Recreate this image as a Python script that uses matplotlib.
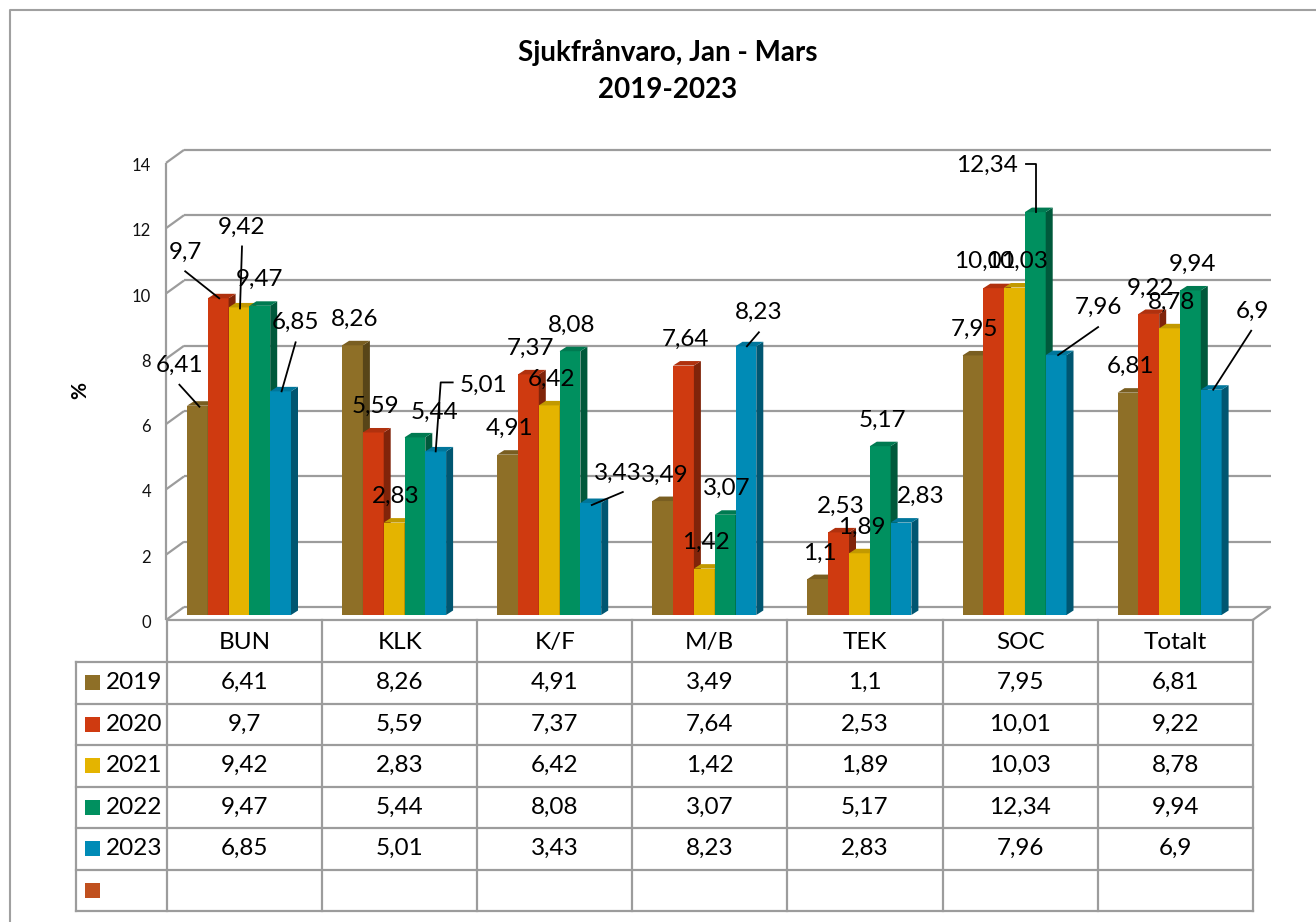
import matplotlib
matplotlib.use('Agg')
import matplotlib.pyplot as plt
from matplotlib.patches import Polygon, Rectangle
from matplotlib.transforms import IdentityTransform
import numpy as np

# ---------------- data ----------------
categories = ['BUN', 'KLK', 'K/F', 'M/B', 'TEK', 'SOC', 'Totalt']
years = ['2019', '2020', '2021', '2022', '2023']
v2019 = [6.41, 8.26, 4.91, 3.49, 1.1, 7.95, 6.81]
v2020 = [9.7, 5.59, 7.37, 7.64, 2.53, 10.01, 9.22]
v2021 = [9.42, 2.83, 6.42, 1.42, 1.89, 10.03, 8.78]
v2022 = [9.47, 5.44, 8.08, 3.07, 5.17, 12.34, 9.94]
v2023 = [6.85, 5.01, 3.43, 8.23, 2.83, 7.96, 6.9]
series = [v2019, v2020, v2021, v2022, v2023]
yticks = [0, 2, 4, 6, 8, 10, 12, 14]
title_lines = ['Sjukfrånvaro, Jan - Mars', '2019-2023']
ylabel = '%'

# ---------------- style ----------------
colors = ['#8E6F27', '#CF3A10', '#E4B400', '#00905F', '#008BB6']
extra_color = '#C0501E'
grid_col = '#9C9C9C'
FONT = ['Lato', 'DejaVu Sans']
plt.rcParams['font.family'] = FONT
LABEL_FS = 17.5
TABLE_FS = 17.5

def fmt(v):
    return ('%g' % v).replace('.', ',')

def shade(c, f):
    r, g, b = matplotlib.colors.to_rgb(c)
    return (r * f, g * f, b * f)

W, H, DPI = 1316, 922, 100
fig = plt.figure(figsize=(W / DPI, H / DPI), dpi=DPI)

# layout constants (pixels)
COL0, COLW = 167.0, 155.1      # table / category columns
BASE, PPU = 615.0, 32.65        # bar baseline and pixels per unit
L, R, B, T = 150, 1290, 640, 120

ax = fig.add_axes([L / W, (H - B) / H, (R - L) / W, (B - T) / H])
ax.set_xlim(-0.5 + (L - COL0) / COLW, -0.5 + (R - COL0) / COLW)
ax.set_ylim((BASE - B) / PPU, (BASE - T) / PPU)
ax.axis('off')

# 3D geometry (data units)
bw = 20.8 / COLW
gstart = 20.0 / COLW - 0.5
dx3 = 7.0 / COLW
dy3 = 4.5 / PPU
back_dy = 8.0 / PPU          # back-wall gridline lift
front_dy = -5.0 / PPU        # front floor edge
x_front = -0.5 - 1.0 / COLW
x_back = -0.5 + 17.0 / COLW
x_right_front = len(categories) - 0.5
x_right_back = x_right_front + 18.0 / COLW

# walls / gridlines
gkw = dict(color=grid_col, lw=1.6, solid_capstyle='butt', zorder=1)
ax.plot([x_front, x_front], [front_dy, yticks[-1] + front_dy], **gkw)
for t in yticks:
    ax.plot([x_front, x_back], [t + front_dy, t + back_dy], **gkw)
    ax.plot([x_back, x_right_back], [t + back_dy, t + back_dy], **gkw)
    ax.text(x_front - 15.0 / COLW, t - 8.0 / PPU, str(t), ha='right', va='center',
            fontsize=12, color='#111111')
ax.plot([x_right_front, x_right_back], [front_dy, back_dy], **gkw)

# bars
for j, vals in enumerate(series):
    xs = np.arange(len(categories)) + gstart + j * bw
    ax.bar(xs, vals, width=bw, align='edge', color=colors[j], linewidth=0, zorder=3 + j * 3)
    for x, v in zip(xs, vals):
        side = Polygon([(x + bw, 0), (x + bw + dx3, dy3), (x + bw + dx3, v + dy3), (x + bw, v)],
                       closed=True, facecolor=shade(colors[j], 0.62), edgecolor='none', zorder=4 + j * 3)
        top = Polygon([(x, v), (x + dx3, v + dy3), (x + bw + dx3, v + dy3), (x + bw, v)],
                      closed=True, facecolor=shade(colors[j], 0.85), edgecolor='none', zorder=5 + j * 3)
        ax.add_patch(side)
        ax.add_patch(top)

# data labels: (dx, dy) pixel offsets of text centre from bar top, optional leader path
label_layout = {
    (0, 0): (-18, 40, [(-18, 21), (2, -1)]),
    (0, 1): (-33, 46, [(-33, 27), (1, 0)]),
    (0, 2): (3, 80, [(3, 61), (1, -1)]),
    (0, 3): (0, 26, None),
    (0, 4): (15, 69, [(15, 49), (1, 0)]),
    (1, 3): (20, 25, None),
    (1, 4): (48, 66, [(17, 69), (5, 69), (0, 0)]),
    (2, 4): (27, 30, [(32, 11), (1, -2)]),
    (3, 4): (13, 34, [(13, 14), (1, 0)]),
    (4, 4): (20, 26, None),
    (5, 1): (-9, 27, None),
    (5, 3): (-48, 47, [(-9, 48), (1, 48), (1, 0)]),
    (5, 4): (42, 48, [(42, 28), (2, 0)]),
    (6, 4): (41, 78, [(40, 59), (2, 0)]),
}
for j, vals in enumerate(series):
    for i, v in enumerate(vals):
        bx = i + gstart + j * bw + bw / 2
        dx, dy, path = label_layout.get((i, j), (2, 26, None))
        ax.annotate(fmt(v), xy=(bx, v), xytext=(dx, dy), textcoords='offset pixels',
                    ha='center', va='center', fontsize=LABEL_FS, zorder=30, annotation_clip=False)
        if path:
            px, py = ax.transData.transform((bx, v))
            xs = [px + p[0] for p in path]
            ys = [py + p[1] for p in path]
            ax.plot(xs, ys, color='black', lw=1.3, transform=IdentityTransform(), zorder=31,
                    clip_on=False)

# ---------------- overlay: frame, title, axis label, table ----------------
ov = fig.add_axes([0, 0, 1, 1], zorder=-1)
ov.set_xlim(0, W)
ov.set_ylim(H, 0)
ov.axis('off')
ov.plot([9.5, 9.5, W + 5], [H + 5, 10, 10], color='#A0A0A0', lw=1.5)

fig.text(667.5 / W, 1 - 52 / H, title_lines[0], ha='center', va='center', fontsize=20,
         fontweight='bold')
fig.text(667.5 / W, 1 - 90 / H, title_lines[1], ha='center', va='center', fontsize=20,
         fontweight='bold')
fig.text(80 / W, 1 - 390 / H, ylabel, ha='center', va='center', fontsize=15,
         fontweight='bold', rotation=90)

tkw = dict(color=grid_col, lw=1.6, solid_capstyle='projecting')
col_edges = [COL0 + COLW * k for k in range(len(categories) + 1)]
row_edges = [620, 662, 703.5, 745, 786.5, 828, 869.5, 911]
left_edge = 76
ov.plot([col_edges[0], col_edges[-1]], [row_edges[0]] * 2, **tkw)
for y in row_edges[1:]:
    ov.plot([left_edge, col_edges[-1]], [y, y], **tkw)
for x in col_edges:
    ov.plot([x, x], [row_edges[0], row_edges[-1]], **tkw)
ov.plot([left_edge, left_edge], [row_edges[1], row_edges[-1]], **tkw)

for i, c in enumerate(categories):
    xc = (col_edges[i] + col_edges[i + 1]) / 2
    ov.text(xc, (row_edges[0] + row_edges[1]) / 2 + 1, c, ha='center', va='center',
            fontsize=TABLE_FS)
    for j, vals in enumerate(series):
        yc = (row_edges[j + 1] + row_edges[j + 2]) / 2
        ov.text(xc, yc, fmt(vals[i]), ha='center', va='center', fontsize=TABLE_FS)

legend_cols = colors + [extra_color]
legend_labels = years + ['']
for j, (c, lab) in enumerate(zip(legend_cols, legend_labels)):
    yc = (row_edges[j + 1] + row_edges[j + 2]) / 2
    ov.add_patch(Rectangle((85, yc - 7.5), 15, 15, facecolor=c, edgecolor='none'))
    ov.text(106, yc, lab, ha='left', va='center', fontsize=TABLE_FS)

fig.savefig('out.png', dpi=DPI)
